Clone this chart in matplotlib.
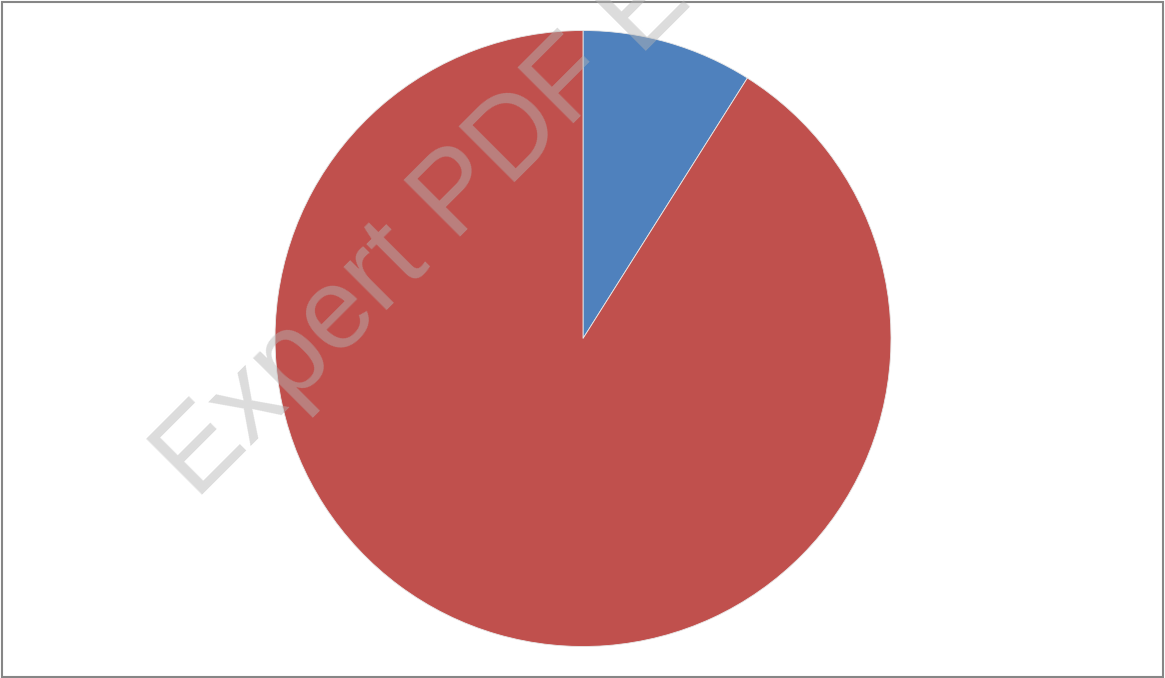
import matplotlib.pyplot as plt
from matplotlib.patches import Rectangle

# Slice shares
labels = ["Series A", "Series B"]
shares = [8.96, 91.04]
colors = ["#4F81BD", "#C0504D"]

W, H = 1165, 678
fig = plt.figure(figsize=(W / 100, H / 100), dpi=100)
fig.patch.set_facecolor("white")

# Pie axes: centre (583, 338) px, radius 308 px
cx, cy, r = 583, 338.5, 308
ax = fig.add_axes([(cx - r) / W, (H - cy - r) / H, 2 * r / W, 2 * r / H])
ax.pie(shares, colors=colors, startangle=90, counterclock=False,
       wedgeprops=dict(edgecolor="#e8e8e8", linewidth=0.6))
ax.set_xlim(-1, 1)
ax.set_ylim(-1, 1)
ax.set_aspect("equal")
ax.axis("off")

# Watermark
fig.text(196 / W, 1 - 501 / H, "Expert PDF Editor", fontsize=83,
         family="Liberation Sans", color=(0.71, 0.71, 0.71, 0.47),
         rotation=45, rotation_mode="anchor", ha="left", va="baseline")

# Frame
fig.patches.append(Rectangle((2 / W, 1 / H), 1 - 4 / W, 1 - 3 / H,
                             transform=fig.transFigure, fill=False,
                             edgecolor="#868686", linewidth=1.5))

fig.savefig("out.png", dpi=100)
